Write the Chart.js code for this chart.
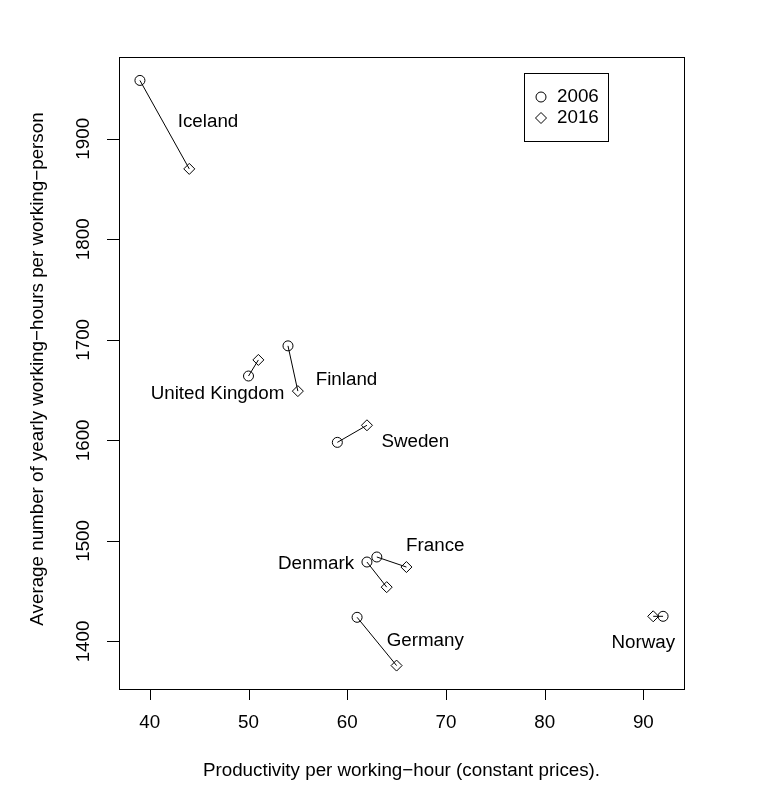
<!DOCTYPE html>
<html>
<head>
<meta charset="utf-8">
<script src="https://cdn.jsdelivr.net/npm/chart.js@4"></script>
<style>
  body { margin: 0; background: #fff; }
  canvas { display: block; }
</style>
</head>
<body>
<canvas id="chart" width="784" height="792"></canvas>
<script>
// Countries and their values (productivity, yearly hours) for 2006 and 2016
const countries = ['Iceland', 'United Kingdom', 'Finland', 'Sweden', 'France', 'Denmark', 'Germany', 'Norway'];
const prod2006 = [39, 50, 54, 59, 63, 62, 61, 92];
const hours2006 = [1958, 1664, 1694, 1598, 1484, 1479, 1424, 1425];
const prod2016 = [44, 51, 55, 62, 66, 64, 65, 91];
const hours2016 = [1870, 1680, 1649, 1615, 1474, 1454, 1376, 1425];

// Where each country name sits (data units)
const labelX = [45.9, 46.86, 59.93, 66.9, 68.92, 56.84, 67.91, 89.99];
const labelY = [1917, 1646.6, 1660, 1598.6, 1494.9, 1477.5, 1400.4, 1398.4];

// Axis ticks
const xTicks = [40, 50, 60, 70, 80, 90];
const yTicks = [1400, 1500, 1600, 1700, 1800, 1900];

const FONT = '18.8px "Liberation Sans", Arial, sans-serif';

// One line dataset per country connecting 2006 -> 2016
const segmentSets = countries.map(function(name, i) {
    return {
        type: 'line',
        label: name,
        data: [{ x: prod2006[i], y: hours2006[i] }, { x: prod2016[i], y: hours2016[i] }],
        borderColor: '#000',
        borderWidth: 1,
        pointRadius: 0,
        fill: false
    };
});

// R style frame, axes, labels and legend
const basePlot = {
    id: 'basePlot',
    afterDraw: function(chart) {
        const c = chart.ctx;
        const area = chart.chartArea;
        const xs = chart.scales.x;
        const ys = chart.scales.y;
        c.save();
        c.strokeStyle = '#000';
        c.fillStyle = '#000';
        c.lineWidth = 1;
        c.font = FONT;

        // box
        c.strokeRect(area.left + 0.5, area.top + 0.5, area.right - area.left, area.bottom - area.top);

        // x axis
        c.beginPath();
        xTicks.forEach(function(v) {
            const px = Math.round(xs.getPixelForValue(v)) + 0.5;
            c.moveTo(px, area.bottom);
            c.lineTo(px, area.bottom + 11);
        });
        c.stroke();
        c.textAlign = 'center';
        c.textBaseline = 'middle';
        xTicks.forEach(function(v) {
            c.fillText(String(v), xs.getPixelForValue(v), 723);
        });
        c.fillText('Productivity per working\u2212hour (constant prices).', (area.left + area.right) / 2, 771);

        // y axis
        c.beginPath();
        yTicks.forEach(function(v) {
            const py = Math.round(ys.getPixelForValue(v)) + 0.5;
            c.moveTo(area.left, py);
            c.lineTo(area.left - 12, py);
        });
        c.stroke();
        yTicks.forEach(function(v) {
            c.save();
            c.translate(84, ys.getPixelForValue(v));
            c.rotate(-Math.PI / 2);
            c.fillText(String(v), 0, 0);
            c.restore();
        });
        c.save();
        c.translate(38, 369);
        c.rotate(-Math.PI / 2);
        c.fillText('Average number of yearly working\u2212hours per working\u2212person', 0, 0);
        c.restore();

        // country names
        countries.forEach(function(name, i) {
            c.fillText(name, xs.getPixelForValue(labelX[i]), ys.getPixelForValue(labelY[i]));
        });

        // legend
        c.strokeRect(524.5, 73.5, 84, 68);
        c.beginPath();
        c.arc(541, 97, 5, 0, Math.PI * 2);
        c.stroke();
        c.beginPath();
        c.moveTo(541, 112.5);
        c.lineTo(546.5, 118);
        c.lineTo(541, 123.5);
        c.lineTo(535.5, 118);
        c.closePath();
        c.stroke();
        c.textAlign = 'left';
        c.fillText('2006', 557, 97);
        c.fillText('2016', 557, 118);
        c.restore();
    }
};

new Chart(document.getElementById('chart').getContext('2d'), {
    type: 'scatter',
    data: {
        datasets: segmentSets.concat([
            {
                label: '2006',
                data: prod2006.map(function(v, i) { return { x: v, y: hours2006[i] }; }),
                pointStyle: 'circle',
                pointRadius: 5,
                borderColor: '#000',
                backgroundColor: 'rgba(0,0,0,0)',
                borderWidth: 1
            },
            {
                label: '2016',
                data: prod2016.map(function(v, i) { return { x: v, y: hours2016[i] }; }),
                pointStyle: 'rectRot',
                pointRadius: 5.5,
                borderColor: '#000',
                backgroundColor: 'rgba(0,0,0,0)',
                borderWidth: 1
            }
        ])
    },
    options: {
        responsive: false,
        animation: false,
        layout: {
            padding: { left: 119, right: 100, top: 57, bottom: 103 }
        },
        scales: {
            x: { type: 'linear', min: 36.88, max: 94.12, display: false },
            y: { type: 'linear', min: 1352.7, max: 1981.3, display: false }
        },
        plugins: {
            legend: { display: false },
            tooltip: { enabled: false }
        }
    },
    plugins: [basePlot]
});
</script>
</body>
</html>
